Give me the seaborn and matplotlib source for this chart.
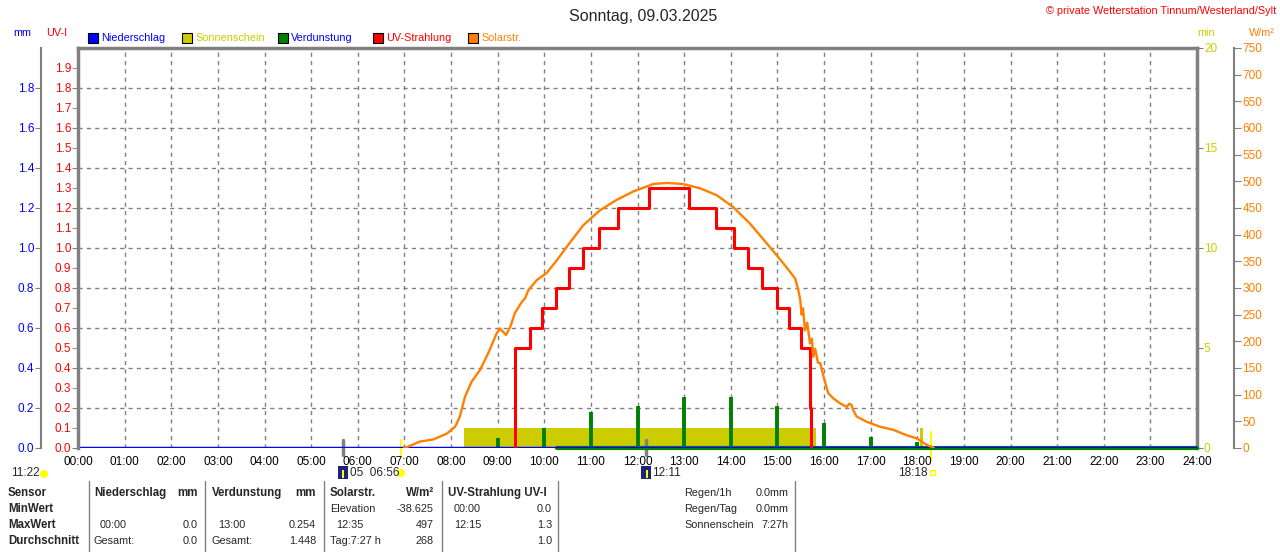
import numpy as np
import pandas as pd
import matplotlib
matplotlib.use('Agg')
import matplotlib.pyplot as plt
import seaborn as sns
from matplotlib.patches import Rectangle, Ellipse
from matplotlib.lines import Line2D
from matplotlib.ticker import FixedLocator, FormatStrFormatter

# ---- data (hours of day) ----
# solar radiation W/m2
solar_t = [7.00, 7.12, 7.33, 7.62, 7.91, 8.09, 8.19, 8.30, 8.44, 8.62, 8.80, 8.98,
           9.05, 9.18, 9.27, 9.37, 9.52, 9.59, 9.66, 9.84, 10.05, 10.27, 10.48,
           10.84, 11.20, 11.55, 11.91, 12.34, 12.63, 12.98, 13.34, 13.70, 14.05,
           14.41, 14.77, 15.13, 15.38, 15.45, 15.49, 15.52, 15.55, 15.59, 15.64,
           15.70, 15.74, 15.77, 15.81, 15.87, 15.92, 15.99, 16.09, 16.20, 16.34,
           16.49, 16.54, 16.59, 16.62, 16.70, 16.92, 17.20, 17.49, 17.77, 17.99,
           18.20, 18.31, 18.36]
solar_w = [0, 4, 12, 16, 27, 40, 59, 96, 124, 146, 178, 215,
           224, 212, 227, 253, 274, 281, 296, 315, 328, 352, 377,
           418, 446, 465, 481, 495, 497, 495, 487, 474, 452,
           421, 384, 346, 318, 296, 278, 250, 262, 221, 235,
           196, 205, 171, 186, 160, 159, 134, 103, 93, 84,
           77, 83, 81, 72, 59, 49, 40, 34, 24, 18,
           6, 2, 0]

# UV index (step function)
uv_t = [9.38, 9.38, 9.69, 9.96, 10.25, 10.54, 10.84, 11.17, 11.59, 12.25, 13.10,
        13.68, 14.06, 14.38, 14.68, 14.99, 15.25, 15.51, 15.69, 15.72]
uv_v = [0.0, 0.5, 0.6, 0.7, 0.8, 0.9, 1.0, 1.1, 1.2, 1.3, 1.2,
        1.1, 1.0, 0.9, 0.8, 0.7, 0.6, 0.5, 0.2, 0.0]

# evaporation mm (hourly spikes)
evap_t = [9, 10, 11, 12, 13, 14, 15, 16, 17, 18]
evap_v = [0.05, 0.10, 0.18, 0.21, 0.254, 0.254, 0.21, 0.127, 0.053, 0.03]
evap_zero_t = [10.27, 24.0]

# precipitation mm
rain_t = [0.0, 24.0]
rain_v = [0.0, 0.0]

# sunshine minutes (steps)
sun_t = [8.28, 15.72, 15.77, 15.83, 18.06, 18.13]
sun_v = [1, 0, 1, 0, 1, 0]

sunrise, sunset = 6.93, 18.30
moon_marks = [5.68, 12.18]

hour_labels = [f"{h:02d}:00" for h in range(25)]

BLUE, RED, ORANGE, YELLOW, GREEN, GREY = '#0000ff', '#ff0000', '#ff8000', '#cccc00', '#008000', '#808080'

sns.set_style('white')
plt.rcParams['font.family'] = ['Liberation Sans', 'DejaVu Sans']
plt.rcParams['font.size'] = 8

W, H = 1280, 552
fig = plt.figure(figsize=(12.8, 5.52), dpi=100, facecolor='white')
ax = fig.add_axes([78 / W, 104 / H, 1119 / W, 400 / H])
ax_min = ax.twinx()
ax_mm = ax.twinx()
ax_w = ax.twinx()

for a, z in [(ax_min, 1), (ax_mm, 2), (ax, 3), (ax_w, 4)]:
    a.set_zorder(z)
    a.patch.set_visible(False)
    for s in a.spines.values():
        s.set_visible(False)
    a.set_xlim(0, 24)

# ---- sunshine + vertical grid (bottom layer) ----
ax_min.fill_between(sun_t, sun_v, step='post', color=YELLOW, linewidth=0)
ax_min.plot([sunrise, sunrise], [-0.4, 0.4], color='#ffff00', lw=1.5, clip_on=False)
ax_min.plot([sunset, sunset], [-0.6, 0.8], color='#ffff00', lw=1.5, clip_on=False)
for m in moon_marks:
    ax_min.plot([m, m], [-0.35, 0.4], color=GREY, lw=2.5, clip_on=False)
ax_min.set_ylim(0, 20)
ax_min.set_yticks([0, 5, 10, 15, 20])
ax_min.spines['right'].set_visible(True)
ax_min.spines['right'].set_color(GREY)
ax_min.spines['right'].set_linewidth(2.5)
ax_min.tick_params(axis='y', colors=GREY, labelcolor=YELLOW, length=4, pad=1, labelsize=8.5)
ax_min.xaxis.set_visible(True)
ax_min.tick_params(axis='x', labelbottom=False, length=0)
ax_min.grid(axis='x', color=GREY, linestyle=(0, (3, 3)), linewidth=1)

# ---- precipitation / evaporation (mm) ----
ax_mm.plot(evap_zero_t, [0, 0], color=GREEN, lw=3, clip_on=False)
ax_mm.vlines(evap_t, 0, evap_v, color=GREEN, lw=2.8)
sns.lineplot(x=rain_t, y=rain_v, ax=ax_mm, color=BLUE, lw=2.5, estimator=None, sort=False)
ax_mm.set_ylim(0, 2.0)
ax_mm.yaxis.tick_left()
ax_mm.set_yticks(np.round(np.arange(0, 1.81, 0.2), 1))
ax_mm.yaxis.set_major_formatter(FormatStrFormatter('%.1f'))
ax_mm.spines['left'].set_visible(True)
ax_mm.spines['left'].set_position(('axes', -37 / 1119))
ax_mm.spines['left'].set_color(GREY)
ax_mm.spines['left'].set_linewidth(1.5)
ax_mm.tick_params(axis='y', colors=GREY, labelcolor=BLUE, length=4, pad=1, labelsize=8.5)
ax_mm.grid(axis='y', color=GREY, linestyle=(0, (3, 3)), linewidth=1)
ax_mm.set_ylabel('')

# ---- UV (main axes with frame and time axis) ----
uv_df = pd.DataFrame({'t': uv_t, 'uv': uv_v})
sns.lineplot(data=uv_df, x='t', y='uv', ax=ax, color=RED, lw=2.2,
             drawstyle='steps-post', estimator=None, sort=False)
ax.set_ylim(0, 2.0)
ax.yaxis.set_major_locator(FixedLocator(np.round(np.arange(0, 1.81, 0.2), 1)))
ax.yaxis.set_minor_locator(FixedLocator(np.round(np.arange(0.1, 1.91, 0.2), 1)))
ax.yaxis.set_major_formatter(FormatStrFormatter('%.1f'))
ax.yaxis.set_minor_formatter(FormatStrFormatter('%.1f'))
ax.tick_params(axis='y', which='both', colors=GREY, labelcolor=RED, length=4, pad=1, labelsize=8.5)
ax.set_xticks(range(25))
ax.set_xticklabels(hour_labels)
ax.tick_params(axis='x', length=0, pad=6, labelsize=8.5, labelcolor='black')
for side in ['left', 'top']:
    ax.spines[side].set_visible(True)
    ax.spines[side].set_color(GREY)
    ax.spines[side].set_linewidth(2.5)
ax.set_xlabel('')
ax.set_ylabel('')

# ---- solar radiation ----
solar_df = pd.DataFrame({'t': solar_t, 'w': solar_w})
sns.lineplot(data=solar_df, x='t', y='w', ax=ax_w, color=ORANGE, lw=1.7,
             estimator=None, sort=False)
ax_w.set_ylim(0, 750)
ax_w.set_yticks(range(0, 751, 50))
ax_w.spines['right'].set_visible(True)
ax_w.spines['right'].set_position(('axes', 1 + 37 / 1119))
ax_w.spines['right'].set_color(GREY)
ax_w.spines['right'].set_linewidth(1.5)
ax_w.tick_params(axis='y', colors=GREY, labelcolor=ORANGE, length=5, pad=1, labelsize=8.5)
ax_w.set_ylabel('')


def ftxt(x, y, s, **kw):
    kw.setdefault('va', 'center')
    kw.setdefault('fontsize', 7.8)
    fig.text(x / W, 1 - y / H, s, **kw)


def frect(x, y, w, h, **kw):
    fig.add_artist(Rectangle((x / W, 1 - (y + h) / H), w / W, h / H,
                             transform=fig.transFigure, **kw))


# ---- header ----
ftxt(643, 16, 'Sonntag, 09.03.2025', ha='center', fontsize=11.5)
ftxt(1276, 11, '© private Wetterstation Tinnum/Westerland/Sylt', ha='right', color=RED)
ftxt(22, 33, 'mm', ha='center', color=BLUE)
ftxt(57, 33, 'UV-I', ha='center', color=RED)
ftxt(1206, 33, 'min', ha='center', color=YELLOW)
ftxt(1262, 33, 'W/m²', ha='center', color=ORANGE)

legend_items = [('Niederschlag', BLUE, BLUE, 88),
                ('Sonnenschein', YELLOW, YELLOW, 182),
                ('Verdunstung', GREEN, BLUE, 278),
                ('UV-Strahlung', RED, RED, 373),
                ('Solarstr.', ORANGE, ORANGE, 468)]
for label, fc, tc, x0 in legend_items:
    frect(x0, 33, 10, 10, facecolor=fc, edgecolor='black', lw=0.8)
    ftxt(x0 + 13, 38, label, color=tc)

# ---- under time axis ----
ftxt(11, 473, '11:22', fontsize=8.5)
fig.add_artist(Ellipse((44 / W, 1 - 474 / H), 8 / W, 8 / H, transform=fig.transFigure,
                       facecolor='#ffff00', edgecolor='none'))
frect(338, 466, 10, 13, facecolor='#1a237e', edgecolor='none')
frect(342, 470, 2, 8, facecolor='#ffff00', edgecolor='none')
ftxt(350, 473, '05  06:56', fontsize=8.5)
fig.add_artist(Ellipse((401 / W, 1 - 473 / H), 8 / W, 8 / H, transform=fig.transFigure,
                       facecolor='#ffff00', edgecolor='none'))
frect(641, 466, 10, 13, facecolor='#1a237e', edgecolor='none')
frect(646, 470, 2, 8, facecolor='#ffff00', edgecolor='none')
ftxt(652, 473, '12:11', fontsize=8.5)
ftxt(898, 473, '18:18', fontsize=8.5)
frect(930, 470, 5, 5, facecolor='none', edgecolor='#ffff00', lw=1)

# ---- statistics table ----
for xs in [89, 205, 324, 442, 558, 795]:
    fig.add_artist(Line2D([xs / W, xs / W], [1 - 481 / H, 0], color=GREY, lw=1,
                          transform=fig.transFigure))

rows_y = [493, 509, 525, 541]
for y, s in zip(rows_y, ['Sensor', 'MinWert', 'MaxWert', 'Durchschnitt']):
    ftxt(8, y, s, fontweight='bold', fontsize=8.3)

ftxt(94, 493, 'Niederschlag', fontweight='bold', fontsize=8.3)
ftxt(198, 493, 'mm', ha='right', fontweight='bold', fontsize=8.3)
ftxt(100, 525, '00:00'); ftxt(198, 525, '0.0', ha='right')
ftxt(94, 541, 'Gesamt:'); ftxt(198, 541, '0.0', ha='right')

ftxt(212, 493, 'Verdunstung', fontweight='bold', fontsize=8.3)
ftxt(316, 493, 'mm', ha='right', fontweight='bold', fontsize=8.3)
ftxt(218, 525, '13:00'); ftxt(316, 525, '0.254', ha='right')
ftxt(212, 541, 'Gesamt:'); ftxt(316, 541, '1.448', ha='right')

ftxt(330, 493, 'Solarstr.', fontweight='bold', fontsize=8.3)
ftxt(434, 493, 'W/m²', ha='right', fontweight='bold', fontsize=8.3)
ftxt(330, 509, 'Elevation'); ftxt(434, 509, '-38.625', ha='right')
ftxt(336, 525, '12:35'); ftxt(434, 525, '497', ha='right')
ftxt(330, 541, 'Tag:7:27 h'); ftxt(434, 541, '268', ha='right')

ftxt(448, 493, 'UV-Strahlung UV-I', fontweight='bold', fontsize=8.3)
ftxt(454, 509, '00:00'); ftxt(552, 509, '0.0', ha='right')
ftxt(454, 525, '12:15'); ftxt(552, 525, '1.3', ha='right')
ftxt(552, 541, '1.0', ha='right')

for y, a, b in zip(rows_y[:3], ['Regen/1h', 'Regen/Tag', 'Sonnenschein'], ['0.0mm', '0.0mm', '7:27h']):
    ftxt(684, y, a)
    ftxt(789, y, b, ha='right')

fig.savefig('out.png', dpi=100, facecolor='white')
